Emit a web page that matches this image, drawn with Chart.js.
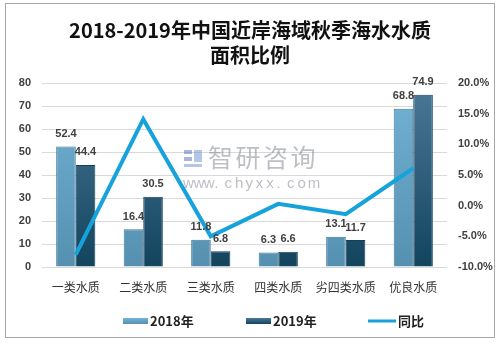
<!DOCTYPE html>
<html>
<head>
<meta charset="utf-8">
<script src="https://cdn.jsdelivr.net/npm/chart.js@4"></script>
<style>
html,body{margin:0;padding:0;background:#fff;}
#wrap{width:500px;height:343px;position:relative;}
</style>
</head>
<body>
<div id="wrap"><canvas id="c" width="500" height="343"></canvas></div>
<script>
const titleLines = ['2018-2019年中国近岸海域秋季海水水质', '面积比例'];
const categories = ['一类水质', '二类水质', '三类水质', '四类水质', '劣四类水质', '优良水质'];
const seriesNames = ['2018年', '2019年', '同比'];
const values2018 = [52.4, 16.4, 11.8, 6.3, 13.1, 68.8];
const values2019 = [44.4, 30.5, 6.8, 6.6, 11.7, 74.9];
const yoyChange = [-8.0, 14.1, -5.0, 0.3, -1.4, 6.1];
const leftTicks = [0, 10, 20, 30, 40, 50, 60, 70, 80];
const rightTickLabels = ['-10.0%', '-5.0%', '0.0%', '5.0%', '10.0%', '15.0%', '20.0%'];
const watermarkTexts = ['智研咨询', 'www.chyxx.com'];

const C2018_TOP = '#72b3d6', C2018_BOT = '#5590b0';
const C2019_TOP = '#4b7998', C2019_BOT = '#12445e';
const LINE_COLOR = '#16a2da';

function vGrad(ctx, area, top, bot) {
  const g = ctx.createLinearGradient(0, area.top, 0, area.bottom);
  g.addColorStop(0, top);
  g.addColorStop(1, bot);
  return g;
}

const framePlugin = {
  id: 'frame',
  beforeDraw(chart) {
    const ctx = chart.ctx;
    ctx.save();
    ctx.fillStyle = '#fff';
    ctx.fillRect(0, 0, chart.width, chart.height);
    ctx.strokeStyle = '#a6a6a6';
    ctx.lineWidth = 1;
    ctx.strokeRect(5.5, 3.5, 489, 334);
    ctx.fillStyle = '#111';
    ctx.textAlign = 'center';
    ctx.textBaseline = 'middle';
    ctx.font = 'bold 20px "Noto Sans CJK SC"';
    ctx.fillText(titleLines[0], 250, 30);
    ctx.fillText(titleLines[1], 250, 55);
    ctx.restore();
  },
  afterDatasetsDraw(chart) {
    const ctx = chart.ctx;
    ctx.save();
    ctx.font = 'bold 11px "Liberation Sans"';
    ctx.fillStyle = '#404040';
    ctx.textAlign = 'center';
    ctx.textBaseline = 'bottom';
    [0, 1].forEach(di => {
      const meta = chart.getDatasetMeta(di);
      const data = chart.data.datasets[di].data;
      meta.data.forEach((el, i) => {
        ctx.fillText(data[i].toFixed(1), el.x, el.y - 7);
      });
    });
    ctx.globalAlpha = 0.5;
    ctx.fillStyle = '#7a7f8a';
    ctx.textAlign = 'left';
    ctx.textBaseline = 'middle';
    ctx.font = '25px "Noto Sans CJK SC"';
    let x = 208;
    for (const ch of watermarkTexts[0]) { ctx.fillText(ch, x, 157); x += 27.5; }
    ctx.font = '15px "Liberation Sans"';
    x = 183;
    for (const ch of watermarkTexts[1]) { ctx.fillText(ch, x, 184); x += 10.4; }
    ctx.fillStyle = '#4f6fb0';
    ctx.fillRect(184, 150, 8, 4);
    ctx.fillRect(184, 157, 8, 4);
    ctx.fillStyle = '#6a8fd0';
    ctx.fillRect(194, 150, 8, 12);
    ctx.fillRect(184, 164, 18, 3);
    ctx.restore();
  },
  afterDraw(chart) {
    const ctx = chart.ctx;
    ctx.save();
    ctx.font = 'bold 13px "Noto Sans CJK SC"';
    ctx.fillStyle = '#222';
    ctx.textAlign = 'left';
    ctx.textBaseline = 'middle';
    const y = 321;
    let g = ctx.createLinearGradient(0, y - 3, 0, y + 3);
    g.addColorStop(0, C2018_TOP); g.addColorStop(1, C2018_BOT);
    ctx.fillStyle = g; ctx.fillRect(123, y - 3, 25, 6);
    ctx.fillStyle = '#222'; ctx.fillText(seriesNames[0], 150, y);
    g = ctx.createLinearGradient(0, y - 3, 0, y + 3);
    g.addColorStop(0, C2019_TOP); g.addColorStop(1, C2019_BOT);
    ctx.fillStyle = g; ctx.fillRect(246, y - 3, 25, 6);
    ctx.fillStyle = '#222'; ctx.fillText(seriesNames[1], 273, y);
    ctx.strokeStyle = LINE_COLOR; ctx.lineWidth = 3;
    ctx.beginPath(); ctx.moveTo(368, y); ctx.lineTo(396, y); ctx.stroke();
    ctx.fillStyle = '#222'; ctx.fillText(seriesNames[2], 398, y);
    ctx.restore();
  }
};

new Chart(document.getElementById('c'), {
  data: {
    labels: categories,
    datasets: [
      {
        type: 'bar', label: seriesNames[0], data: values2018, yAxisID: 'y', order: 2,
        backgroundColor: c => c.chart.chartArea ? vGrad(c.chart.ctx, c.chart.chartArea, C2018_TOP, C2018_BOT) : C2018_TOP,
        borderColor: '#3f7898', borderWidth: 1,
        categoryPercentage: 0.58, barPercentage: 1.0
      },
      {
        type: 'bar', label: seriesNames[1], data: values2019, yAxisID: 'y', order: 2,
        backgroundColor: c => c.chart.chartArea ? vGrad(c.chart.ctx, c.chart.chartArea, C2019_TOP, C2019_BOT) : C2019_TOP,
        borderColor: '#173f56', borderWidth: 1,
        categoryPercentage: 0.58, barPercentage: 1.0
      },
      {
        type: 'line', label: seriesNames[2], data: yoyChange, yAxisID: 'y1', order: 0,
        borderColor: LINE_COLOR, borderWidth: 4, pointRadius: 0, tension: 0, fill: false,
        borderJoinStyle: 'miter'
      }
    ]
  },
  options: {
    responsive: false,
    animation: false,
    layout: { padding: { top: 83, left: 0, right: 0, bottom: 0 } },
    plugins: { legend: { display: false }, title: { display: false }, tooltip: { enabled: false } },
    scales: {
      x: {
        grid: { display: false, drawTicks: false },
        border: { display: false },
        ticks: { padding: 13, color: '#333', font: { family: '"Noto Sans CJK SC"', size: 12 }, maxRotation: 0 },
        afterFit: s => { s.height = 76; }
      },
      y: {
        position: 'left', min: 0, max: 80,
        afterBuildTicks: s => { s.ticks = leftTicks.map(v => ({ value: v })); },
        grid: { color: '#d9d9d9', drawTicks: false, lineWidth: 1 },
        border: { display: false },
        ticks: { padding: 11, color: '#404040', font: { family: '"Liberation Sans"', size: 11, weight: 'bold' } },
        afterFit: s => { s.width = 42; }
      },
      y1: {
        position: 'right', min: -10, max: 20,
        afterBuildTicks: s => { s.ticks = rightTickLabels.map(t => ({ value: parseFloat(t) })); },
        grid: { display: false, drawTicks: false },
        border: { display: false },
        ticks: {
          padding: 11, color: '#404040', font: { family: '"Liberation Sans"', size: 11, weight: 'bold' },
          callback: (v, i) => rightTickLabels[i]
        },
        afterFit: s => { s.width = 53; }
      }
    }
  },
  plugins: [framePlugin]
});
</script>
</body>
</html>
